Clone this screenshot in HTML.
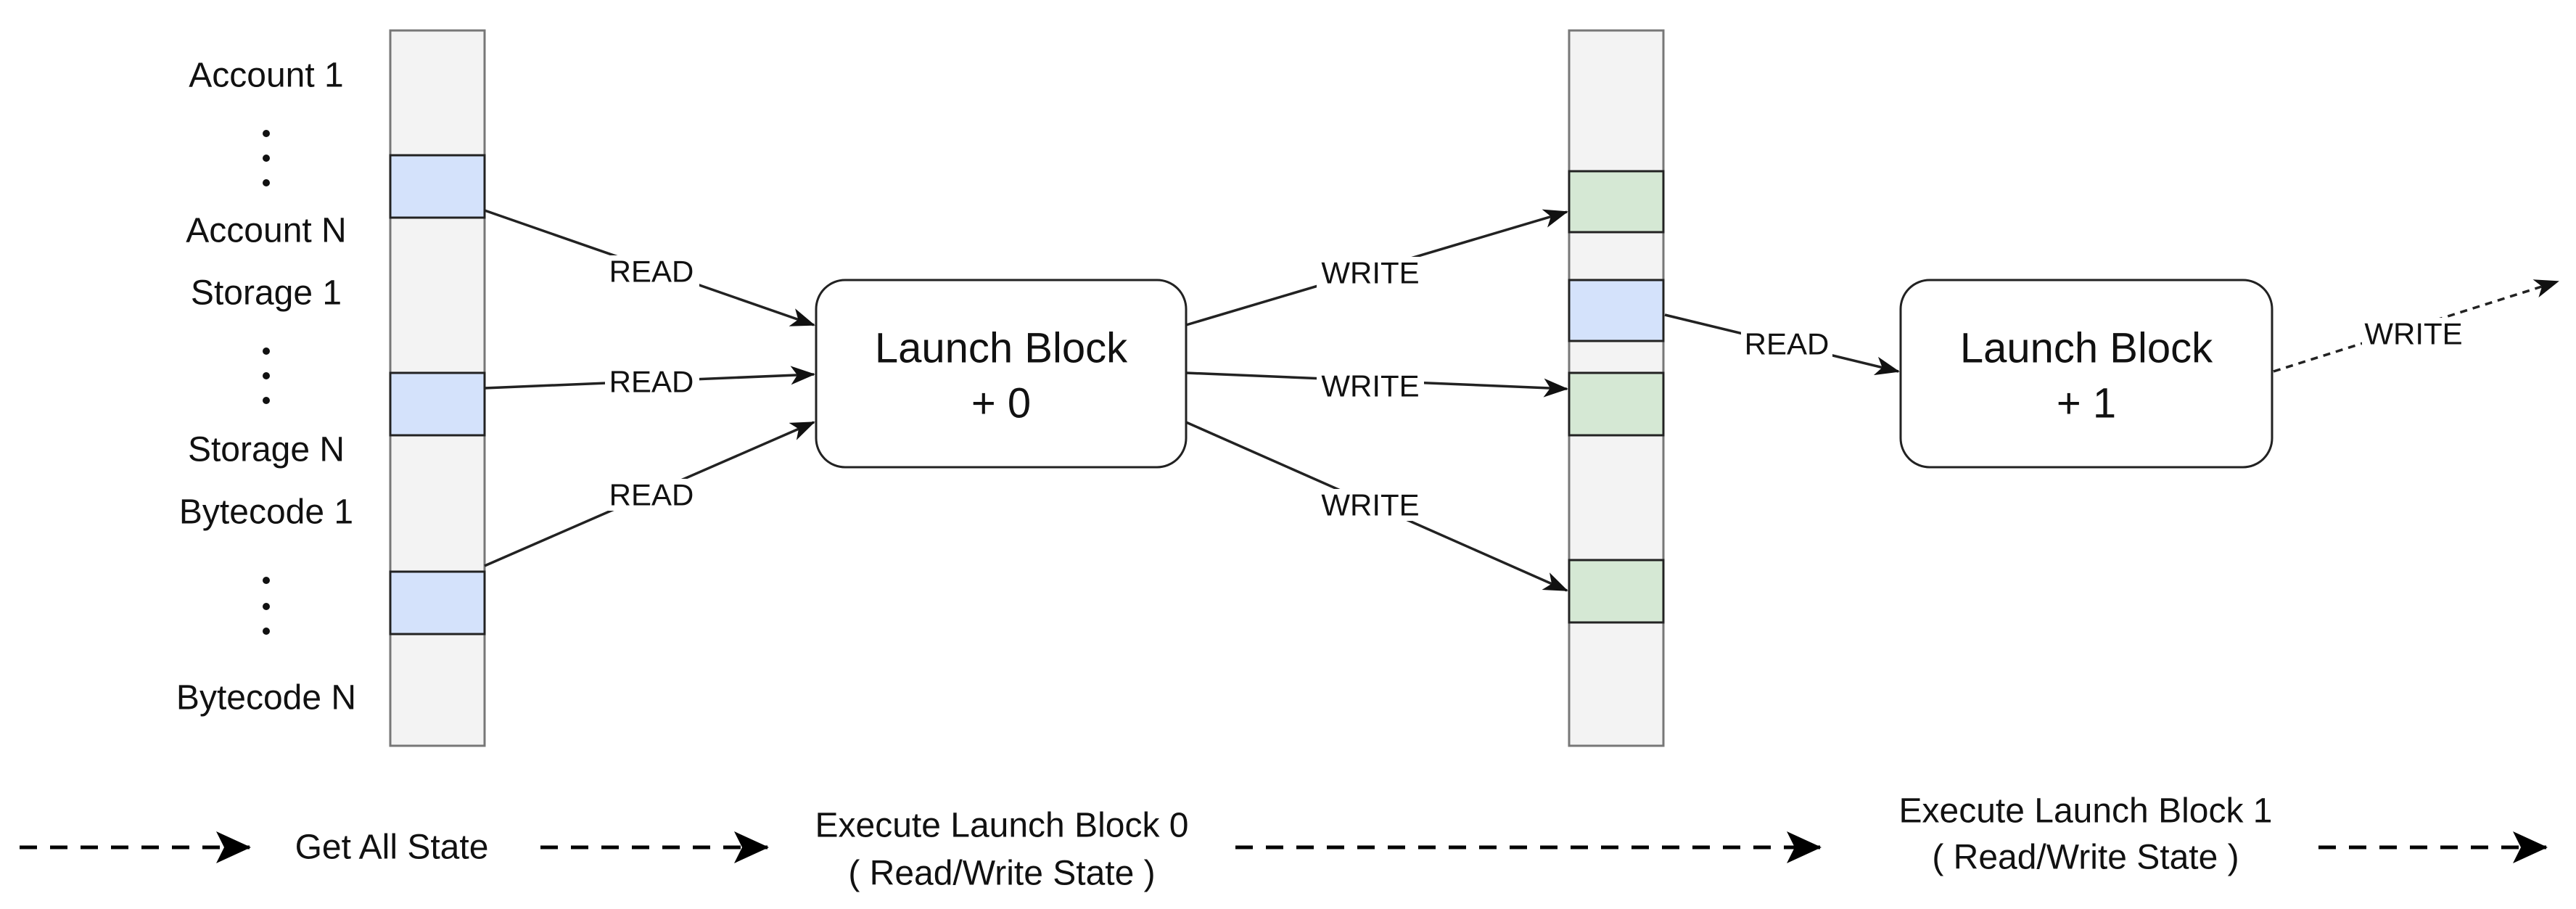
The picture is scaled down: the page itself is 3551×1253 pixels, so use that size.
<!DOCTYPE html>
<html><head><meta charset="utf-8"><style>
html,body{margin:0;padding:0;background:#fff;}
svg{display:block;}
text{font-family:"Liberation Sans",Arial,sans-serif;fill:#111;}
</style></head><body>
<svg width="3551" height="1253" viewBox="0 0 3551 1253" xmlns="http://www.w3.org/2000/svg">
<defs>
<marker id="a" viewBox="0 0 34 26" refX="32" refY="13" markerWidth="34" markerHeight="26" markerUnits="userSpaceOnUse" orient="auto">
<path d="M0,0 L34,13 L0,26 L9,13 Z" fill="#111"/></marker>
<marker id="b" viewBox="0 0 48 44" refX="46" refY="22" markerWidth="48" markerHeight="44" markerUnits="userSpaceOnUse" orient="auto">
<path d="M0,0 L48,22 L0,44 L11,22 Z" fill="#000"/></marker>
</defs>

<!-- left column -->
<rect x="538" y="42" width="130" height="986" fill="#f3f3f3" stroke="#777" stroke-width="3"/>
<rect x="538" y="214" width="130" height="86" fill="#d4e2fb" stroke="#222" stroke-width="3"/>
<rect x="538" y="514" width="130" height="86" fill="#d4e2fb" stroke="#222" stroke-width="3"/>
<rect x="538" y="788" width="130" height="86" fill="#d4e2fb" stroke="#222" stroke-width="3"/>

<g font-size="48" text-anchor="middle" dominant-baseline="central">
<text x="367" y="104">Account 1</text>
<text x="367" y="318">Account N</text>
<text x="367" y="404">Storage 1</text>
<text x="367" y="620">Storage N</text>
<text x="367" y="706">Bytecode 1</text>
<text x="367" y="962">Bytecode N</text>
</g>
<g fill="#111">
<circle cx="367" cy="184" r="5"/><circle cx="367" cy="218" r="5"/><circle cx="367" cy="252" r="5"/>
<circle cx="367" cy="484" r="5"/><circle cx="367" cy="518" r="5"/><circle cx="367" cy="552" r="5"/>
<circle cx="367" cy="800" r="5"/><circle cx="367" cy="836" r="5"/><circle cx="367" cy="870" r="5"/>
</g>

<!-- right column -->
<rect x="2163" y="42" width="130" height="986" fill="#f3f3f3" stroke="#777" stroke-width="3"/>
<rect x="2163" y="236" width="130" height="84" fill="#d5e8d4" stroke="#222" stroke-width="3"/>
<rect x="2163" y="386" width="130" height="84" fill="#d4e2fb" stroke="#222" stroke-width="3"/>
<rect x="2163" y="514" width="130" height="86" fill="#d5e8d4" stroke="#222" stroke-width="3"/>
<rect x="2163" y="772" width="130" height="86" fill="#d5e8d4" stroke="#222" stroke-width="3"/>

<!-- boxes -->
<rect x="1125" y="386" width="510" height="258" rx="40" fill="#fff" stroke="#222" stroke-width="3"/>
<rect x="2620" y="386" width="512" height="258" rx="40" fill="#fff" stroke="#222" stroke-width="3"/>
<g font-size="58" text-anchor="middle" dominant-baseline="central">
<text x="1380" y="480">Launch Block</text><text x="1380" y="556">+ 0</text>
<text x="2876" y="480">Launch Block</text><text x="2876" y="556">+ 1</text>
</g>

<!-- connectors -->
<g stroke="#222" stroke-width="3.5" fill="none" marker-end="url(#a)">
<line x1="668" y1="290" x2="1122" y2="448"/>
<line x1="668" y1="535" x2="1122" y2="516"/>
<line x1="668" y1="780" x2="1122" y2="582"/>
<line x1="1635" y1="448" x2="2160" y2="292"/>
<line x1="1635" y1="514" x2="2160" y2="536"/>
<line x1="1635" y1="582" x2="2160" y2="814"/>
<line x1="2295" y1="434" x2="2617" y2="512"/>
<line x1="3134" y1="512" x2="3526" y2="388" stroke-dasharray="10,8"/>
</g>

<!-- connector labels -->
<g fill="#fff">
<rect x="834" y="352" width="130" height="44"/>
<rect x="834" y="504" width="130" height="44"/>
<rect x="834" y="660" width="130" height="44"/>
<rect x="1815" y="354" width="148" height="44"/>
<rect x="1815" y="510" width="148" height="44"/>
<rect x="1815" y="674" width="148" height="44"/>
<rect x="2400" y="452" width="126" height="44"/>
<rect x="3256" y="438" width="142" height="44"/>
</g>
<g font-size="42" text-anchor="middle" dominant-baseline="central">
<text x="898" y="374">READ</text>
<text x="898" y="526">READ</text>
<text x="898" y="682">READ</text>
<text x="1889" y="376">WRITE</text>
<text x="1889" y="532">WRITE</text>
<text x="1889" y="696">WRITE</text>
<text x="2463" y="474">READ</text>
<text x="3327" y="460">WRITE</text>
</g>

<!-- bottom timeline -->
<g stroke="#000" stroke-width="5" fill="none" stroke-dasharray="24,18" marker-end="url(#b)">
<line x1="27" y1="1168" x2="344" y2="1168"/>
<line x1="745" y1="1168" x2="1058" y2="1168"/>
<line x1="1703" y1="1168" x2="2509" y2="1168"/>
<line x1="3196" y1="1168" x2="3510" y2="1168"/>
</g>
<g font-size="48" text-anchor="middle" dominant-baseline="central">
<text x="540" y="1168">Get All State</text>
<text x="1381" y="1138">Execute Launch Block 0</text>
<text x="1381" y="1204">( Read/Write State )</text>
<text x="2875" y="1118">Execute Launch Block 1</text>
<text x="2875" y="1182">( Read/Write State )</text>
</g>
</svg>
</body></html>
